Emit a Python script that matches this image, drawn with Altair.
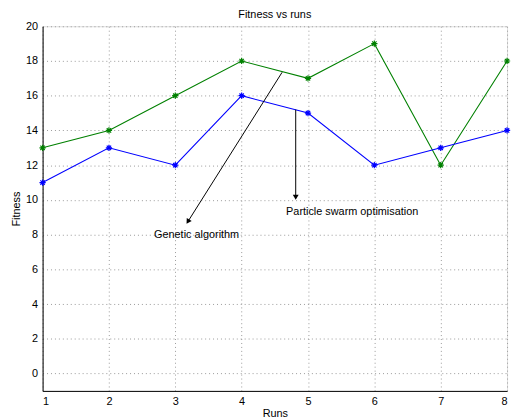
import altair as alt
import pandas as pd

runs = [1, 2, 3, 4, 5, 6, 7, 8]
ga_fitness = [13, 14, 16, 18, 17, 19, 12, 18]
pso_fitness = [11, 13, 12, 16, 15, 12, 13, 14]
series_names = ["Genetic algorithm", "Particle swarm optimisation"]
series_colors = ["#008000", "#0000ff"]
y_ticks = [0, 2, 4, 6, 8, 10, 12, 14, 16, 18, 20]

# annotations (data coordinates)
ann_label = ["Genetic algorithm", "Particle swarm optimisation"]
ann_x_start = [4.61, 4.815]
ann_y_start = [17.35, 15.2]
ann_x_end = [3.19, 4.815]
ann_y_end = [8.75, 10.15]
ann_head_angle = [32, 0]
ann_text_x = [2.68, 4.67]
ann_text_y = [7.95, 9.3]

FONT = "Liberation Sans"

rows = []
for name, vals in zip(series_names, [ga_fitness, pso_fitness]):
    for r, v in zip(runs, vals):
        rows.append({"run": r, "fitness": v, "series": name})
df = pd.DataFrame(rows)

ann = pd.DataFrame({
    "label": ann_label,
    "x0": ann_x_start, "y0": ann_y_start,
    "x1": ann_x_end, "y1": ann_y_end,
    "angle": ann_head_angle,
    "tx": ann_text_x, "ty": ann_text_y,
})

xscale = alt.Scale(domain=[1, 8], nice=False, zero=False)
yscale = alt.Scale(domain=[-1, 20], nice=False, zero=False)
color = alt.Color("series:N", scale=alt.Scale(domain=series_names, range=series_colors), legend=None)

common_axis = dict(grid=True, gridDash=[1, 3], gridColor="#999999", ticks=False, labelPadding=5,
                   domainColor="black", labelColor="black", titleColor="black", labelFontSize=11,
                   titleFontSize=11, titleFontWeight="normal", labelFont=FONT, titleFont=FONT,
                   labelOverlap=False)
x_axis = alt.Axis(values=runs, format="d", titlePadding=1, **common_axis)
y_axis = alt.Axis(values=y_ticks, format="d", titlePadding=4, **common_axis)


def X(field):
    return alt.X(field, scale=xscale, title="Runs", axis=x_axis)


def Y(field):
    return alt.Y(field, scale=yscale, title="Fitness", axis=y_axis)


base = alt.Chart(df)
lines = base.mark_line(strokeWidth=1.1).encode(x=X("run:Q"), y=Y("fitness:Q"), color=color)
asterisk = "M-1,0L1,0M0,-1L0,1M-0.7,-0.7L0.7,0.7M-0.7,0.7L0.7,-0.7"
points = base.mark_point(shape=asterisk, filled=False, size=40, strokeWidth=1.2, opacity=1).encode(
    x=X("run:Q"), y=Y("fitness:Q"), color=color)

arrows = alt.Chart(ann).mark_rule(color="black", strokeWidth=1).encode(
    x=X("x0:Q"), y=Y("y0:Q"), x2="x1:Q", y2="y1:Q")
heads = alt.Chart(ann).mark_point(shape="triangle-down", filled=True, color="black", size=35, opacity=1).encode(
    x=X("x1:Q"), y=Y("y1:Q"), angle=alt.Angle("angle:Q", scale=None))
texts = alt.Chart(ann).mark_text(align="left", baseline="middle", fontSize=11, font=FONT, color="black").encode(
    x=X("tx:Q"), y=Y("ty:Q"), text="label:N")

chart = alt.layer(lines, points, arrows, heads, texts).properties(
    width=470, height=369,
    title=alt.TitleParams("Fitness vs runs", fontSize=11, fontWeight="normal", font=FONT,
                          color="black", offset=0),
    autosize=alt.AutoSizeParams(type="none"),
    padding={"left": 35, "top": 16, "right": 4, "bottom": 30},
).configure_view(stroke="black", strokeWidth=1).configure(background="white")

chart.save("out.html", embed_options={"renderer": "svg", "actions": False})
